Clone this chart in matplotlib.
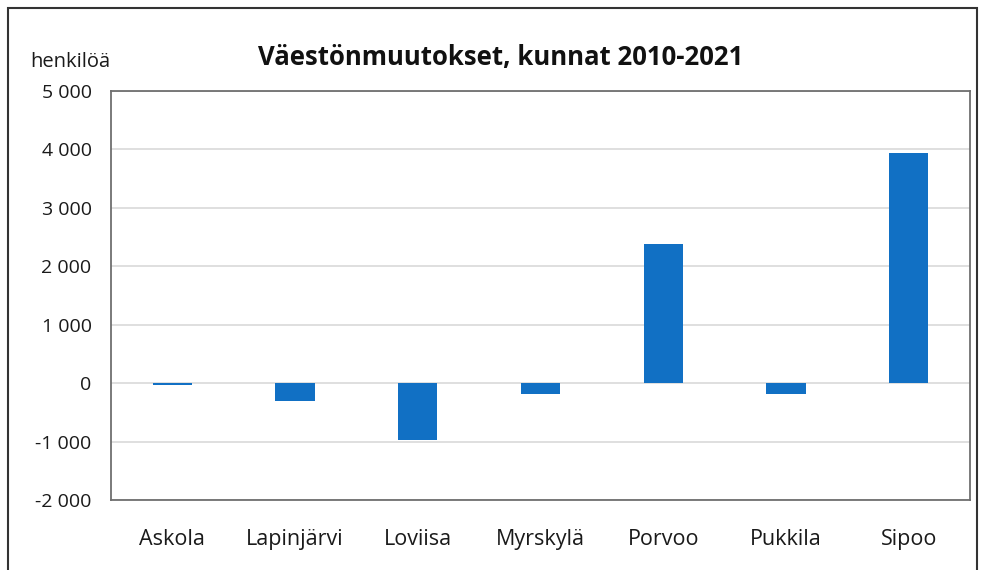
import matplotlib.pyplot as plt
from matplotlib.patches import Rectangle
from matplotlib.ticker import FuncFormatter

plt.rcParams['font.family'] = ['Open Sans', 'DejaVu Sans']

# Data
kunnat = ['Askola', 'Lapinjärvi', 'Loviisa', 'Myrskylä', 'Porvoo', 'Pukkila', 'Sipoo']
muutos = [-30, -300, -965, -190, 2375, -180, 3935]
y_ticks = [-2000, -1000, 0, 1000, 2000, 3000, 4000, 5000]

fig = plt.figure(figsize=(9.83, 5.70), dpi=100)
ax = fig.add_axes([0.1129, 0.1228, 0.8739, 0.7176])

x = range(len(kunnat))
ax.bar(x, muutos, width=0.32, color='#1170C4', zorder=3)

ax.set_xlim(-0.5, len(kunnat) - 0.5)
ax.set_ylim(-2000, 5000)
ax.set_yticks(y_ticks)
ax.yaxis.set_major_formatter(FuncFormatter(lambda v, p: f'{int(v):,}'.replace(',', ' ')))
ax.set_xticks(list(x))
ax.set_xticklabels(kunnat)
ax.tick_params(axis='both', length=0, colors='#1a1a1a')
ax.tick_params(axis='y', pad=14, labelsize=14)
ax.tick_params(axis='x', pad=21, labelsize=15.5)
ax.grid(axis='y', color='#d9d9d9', linewidth=1.2, zorder=0)

for s in ax.spines.values():
    s.set_color('#6f6f6f')
    s.set_linewidth(1.3)

fig.text(0.509, 0.9, 'Väestönmuutokset, kunnat 2010-2021', ha='center', va='center',
         fontsize=18.5, fontweight='bold', color='#111111')
fig.text(0.072, 0.891, 'henkilöä', ha='center', va='center', fontsize=14.5, color='#1a1a1a')

# outer frame of the chart
fig.patches.append(Rectangle((0.008, -0.05), 0.986, 1.036, transform=fig.transFigure,
                             fill=False, edgecolor='#333333', linewidth=1.5))

fig.savefig('out.png', dpi=100)
